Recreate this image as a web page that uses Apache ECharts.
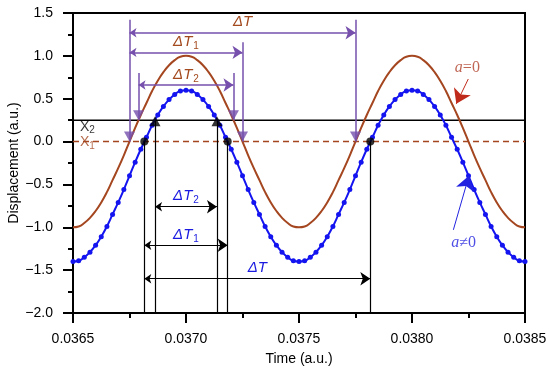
<!DOCTYPE html>
<html>
<head>
<meta charset="utf-8">
<script src="https://cdn.jsdelivr.net/npm/echarts@6/dist/echarts.min.js"></script>
<style>html,body{margin:0;padding:0;background:#fff;}#c{width:550px;height:372px;}</style>
</head>
<body>
<div id="c"></div>
<script>
// ---- data ----
const time = [0.0365,0.036525,0.03655,0.036575,0.0366,0.036625,0.03665,0.036675,0.0367,0.036725,0.03675,0.036775,0.0368,0.036825,0.03685,0.036875,0.0369,0.036925,0.03695,0.036975,0.037,
0.037025,0.03705,0.037075,0.0371,0.037125,0.03715,0.037175,0.0372,0.037225,0.03725,0.037275,0.0373,0.037325,0.03735,0.037375,0.0374,0.037425,0.03745,0.037475,0.0375,
0.037525,0.03755,0.037575,0.0376,0.037625,0.03765,0.037675,0.0377,0.037725,0.03775,0.037775,0.0378,0.037825,0.03785,0.037875,0.0379,0.037925,0.03795,0.037975,0.038,
0.038025,0.03805,0.038075,0.0381,0.038125,0.03815,0.038175,0.0382,0.038225,0.03825,0.038275,0.0383,0.038325,0.03835,0.038375,0.0384,0.038425,0.03845,0.038475,0.0385];

const dispA0 = [-1.00,-0.99,-0.95,-0.89,-0.81,-0.71,-0.59,-0.45,-0.31,-0.16,0.00,0.16,0.31,0.45,0.59,0.71,0.81,0.89,0.95,0.99,1.00,
0.99,0.95,0.89,0.81,0.71,0.59,0.45,0.31,0.16,0.00,-0.16,-0.31,-0.45,-0.59,-0.71,-0.81,-0.89,-0.95,-0.99,-1.00,
-0.99,-0.95,-0.89,-0.81,-0.71,-0.59,-0.45,-0.31,-0.16,0.00,0.16,0.31,0.45,0.59,0.71,0.81,0.89,0.95,0.99,1.00,
0.99,0.95,0.89,0.81,0.71,0.59,0.45,0.31,0.16,0.00,-0.16,-0.31,-0.45,-0.59,-0.71,-0.81,-0.89,-0.95,-0.99,-1.00];

const dispANot0 = [-1.40,-1.39,-1.35,-1.29,-1.21,-1.11,-0.99,-0.85,-0.71,-0.56,-0.40,-0.24,-0.09,0.05,0.19,0.31,0.41,0.49,0.55,0.59,0.60,
0.59,0.55,0.49,0.41,0.31,0.19,0.05,-0.09,-0.24,-0.40,-0.56,-0.71,-0.85,-0.99,-1.11,-1.21,-1.29,-1.35,-1.39,-1.40,
-1.39,-1.35,-1.29,-1.21,-1.11,-0.99,-0.85,-0.71,-0.56,-0.40,-0.24,-0.09,0.05,0.19,0.31,0.41,0.49,0.55,0.59,0.60,
0.59,0.55,0.49,0.41,0.31,0.19,0.05,-0.09,-0.24,-0.40,-0.56,-0.71,-0.85,-0.99,-1.11,-1.21,-1.29,-1.35,-1.39,-1.40];

const xRange = [0.0365, 0.0385];
const x2Level = 0.25;
const x1Level = 0;
const redCrossX2 = [0.03679, 0.03721];
const redCrossX1 = [0.03675, 0.03725, 0.03775];
const blueCrossX2 = [0.036863, 0.037137];
const blueCrossX1 = [0.0368155, 0.0371845, 0.0378155];

// purple (a=0) interval markers
const purpleGuideX = [0.03675, 0.03679, 0.03721, 0.03725, 0.03775];
const purpleGuideTop = [1.42, 0.80, 0.80, 1.16, 1.42];
const purpleGuideBottom = [0, 0.25, 0.25, 0, 0];
const purpleArrowFrom = [0.03675, 0.03675, 0.03679];
const purpleArrowTo = [0.03775, 0.03725, 0.03721];
const purpleArrowLevel = [1.27, 1.04, 0.66];
const arrowNames = ['ΔT', 'ΔT1', 'ΔT2'];

// black (a≠0) interval markers
const blackGuideX = [0.0368155, 0.036863, 0.037137, 0.0371845, 0.0378155];
const blackGuideTop = [0, 0.25, 0.25, 0, 0];
const blackGuideBottom = -2;
const blackArrowFrom = [0.0368155, 0.0368155, 0.036863];
const blackArrowTo = [0.0378155, 0.0371845, 0.037137];
const blackArrowLevel = [-1.60, -1.21, -0.76];

// annotation anchors (data units)
const a0Text = [0.038245, 0.86];
const a0Arrow = [[0.038249, 0.73], [0.038196, 0.44]];
const an0Text = [0.038228, -1.18];
const an0Arrow = [[0.038183, -1.03], [0.038252, -0.40]];

const yTicks = [-2.0, -1.5, -1.0, -0.5, 0.0, 0.5, 1.0, 1.5];

// ---- styles ----
const RED = '#A4461F', BLUE = '#1414F0', PURPLE = '#7650AC', LBL = '#A34A1F';
const FONT = 'Liberation Sans, Arial, sans-serif';

function fmtName(n) {
  const m = n.match(/^ΔT(\d?)$/);
  return m[1] ? '{d|ΔT}{s|' + m[1] + '}' : '{d|ΔT}';
}
function richFor(color) {
  return {
    d: {fontFamily: FONT, fontSize: 15, fontStyle: 'italic', color: color, verticalAlign: 'top', lineHeight: 16},
    s: {fontFamily: FONT, fontSize: 10, color: color, verticalAlign: 'top', lineHeight: 16, padding: [7, 0, 0, 1]}
  };
}

const chart = echarts.init(document.getElementById('c'), null, {renderer: 'canvas', width: 550, height: 372});

const axisCommon = {
  axisLine: {show: true, onZero: false, lineStyle: {color: '#000', width: 2}},
  axisTick: {show: true, length: 10, lineStyle: {color: '#000', width: 2}},
  minorTick: {show: true, splitNumber: 2, length: 5, lineStyle: {color: '#000', width: 2}},
  splitLine: {show: false},
  axisLabel: {fontFamily: FONT, fontSize: 14, color: '#000', margin: 19, hideOverlap: false},
  nameTextStyle: {fontFamily: FONT, fontSize: 14, color: '#000'},
  nameMoveOverlap: false
};

const option = {
  animation: false,
  grid: {left: 73, right: 25, top: 13, bottom: 59, show: true, borderColor: '#000', borderWidth: 2,
    containLabel: false, outerBoundsMode: 'none'},
  xAxis: Object.assign({}, axisCommon, {
    type: 'value', min: xRange[0], max: xRange[1], interval: 0.0005,
    name: 'Time (a.u.)', nameLocation: 'middle', nameGap: 39,
    axisLabel: Object.assign({}, axisCommon.axisLabel, {formatter: v => v.toFixed(4),
      alignMinLabel: 'center', alignMaxLabel: 'center'})
  }),
  yAxis: Object.assign({}, axisCommon, {
    type: 'value', min: yTicks[0], max: yTicks[yTicks.length - 1], interval: 0.5,
    name: 'Displacement (a.u.)', nameLocation: 'middle', nameGap: 52,
    axisLabel: Object.assign({}, axisCommon.axisLabel, {margin: 20, formatter: v => v.toFixed(1).replace('-', '−'),
      alignMinLabel: 'right', alignMaxLabel: 'right', verticalAlignMinLabel: 'middle', verticalAlignMaxLabel: 'middle'})
  }),
  series: [
    // reference levels
    {type: 'line', data: xRange.map(x => [x, x2Level]), symbol: 'none', lineStyle: {color: '#000', width: 1.5}, z: 2, silent: true},
    {type: 'line', data: xRange.map(x => [x, x1Level]), symbol: 'none', lineStyle: {color: RED, width: 1.5, type: [6, 4]}, z: 2, silent: true},
    // curves
    {type: 'line', data: time.map((t, i) => [t, dispA0[i]]), smooth: true, symbol: 'none', lineStyle: {color: RED, width: 2}, z: 3},
    {type: 'line', data: time.map((t, i) => [t, dispANot0[i]]), smooth: true, symbol: 'circle', symbolSize: 5, showAllSymbol: true,
      itemStyle: {color: BLUE}, lineStyle: {color: BLUE, width: 2}, z: 4},
    // purple guides
    {type: 'lines', coordinateSystem: 'cartesian2d', silent: true, z: 5,
      lineStyle: {color: PURPLE, width: 1.5, opacity: 1},
      data: purpleGuideX.map((x, i) => ({coords: [[x, purpleGuideTop[i]], [x, purpleGuideBottom[i]]]}))},
    {type: 'lines', coordinateSystem: 'cartesian2d', silent: true, z: 5,
      symbol: ['arrow', 'arrow'], symbolSize: [7, 10],
      lineStyle: {color: PURPLE, width: 1.5, opacity: 1},
      label: {show: true, position: 'middle', distance: 2, rich: richFor(LBL)},
      data: purpleArrowFrom.map((x, i) => ({coords: [[x, purpleArrowLevel[i]], [purpleArrowTo[i], purpleArrowLevel[i]]],
        label: {formatter: fmtName(arrowNames[i])}}))},
    // black guides
    {type: 'lines', coordinateSystem: 'cartesian2d', silent: true, z: 5,
      lineStyle: {color: '#000', width: 1.2, opacity: 1},
      data: blackGuideX.map((x, i) => ({coords: [[x, blackGuideTop[i]], [x, blackGuideBottom]]}))},
    {type: 'lines', coordinateSystem: 'cartesian2d', silent: true, z: 5,
      symbol: ['arrow', 'arrow'], symbolSize: [7, 10],
      lineStyle: {color: '#000', width: 1.2, opacity: 1},
      label: {show: true, position: 'middle', distance: 2, rich: richFor('#1a1ae0')},
      data: blackArrowFrom.map((x, i) => ({coords: [[x, blackArrowLevel[i]], [blackArrowTo[i], blackArrowLevel[i]]],
        label: {formatter: fmtName(arrowNames[i])}}))},
    // crossing markers
    {type: 'scatter', symbol: 'triangle', symbolRotate: 180, symbolSize: [11, 10], symbolOffset: [0, -5],
      itemStyle: {color: PURPLE}, z: 6,
      data: redCrossX2.map(x => [x, x2Level]).concat(redCrossX1.map(x => [x, x1Level]))},
    {type: 'scatter', symbol: 'triangle', symbolSize: [11, 10], symbolOffset: [0, 1],
      itemStyle: {color: '#000'}, z: 6, data: blueCrossX2.map(x => [x, x2Level])},
    {type: 'scatter', symbol: 'circle', symbolSize: 8,
      itemStyle: {color: '#000'}, z: 6, data: blueCrossX1.map(x => [x, x1Level])},
    // X labels
    {type: 'scatter', symbolSize: 0, z: 7, silent: true,
      label: {show: true, position: 'right', distance: 7,
        rich: {x: {fontFamily: FONT, fontSize: 14, verticalAlign: 'top', lineHeight: 15},
               s: {fontFamily: FONT, fontSize: 10, verticalAlign: 'top', lineHeight: 15, padding: [6, 0, 0, 0]}}},
      data: [
        {value: [xRange[0], x2Level], label: {formatter: '{x|X}{s|2}', color: '#000', offset: [0, 7]}},
        {value: [xRange[0], x1Level], label: {formatter: '{x|X}{s|1}', color: RED, offset: [0, 1]}}
      ]},
    // a annotations
    {type: 'lines', coordinateSystem: 'cartesian2d', silent: true, z: 7,
      symbol: ['none', 'arrow'], symbolSize: [9, 14],
      data: [
        {coords: a0Arrow, lineStyle: {color: '#C02A1A', width: 1, opacity: 1}},
        {coords: an0Arrow, lineStyle: {color: '#2222E0', width: 1, opacity: 1}}
      ]},
    {type: 'scatter', symbolSize: 0, z: 7, silent: true,
      label: {show: true, position: 'inside',
        rich: {i: {fontFamily: 'Liberation Serif, Times New Roman, serif', fontSize: 16, fontStyle: 'italic'},
               n: {fontFamily: 'Liberation Serif, Times New Roman, serif', fontSize: 16}}},
      data: [
        {value: a0Text, label: {formatter: '{i|a}{n|=0}', color: '#B0402A'}},
        {value: an0Text, label: {formatter: '{i|a}{n|≠0}', color: '#2222E0'}}
      ]}
  ]
};
chart.setOption(option);
</script>
</body>
</html>
